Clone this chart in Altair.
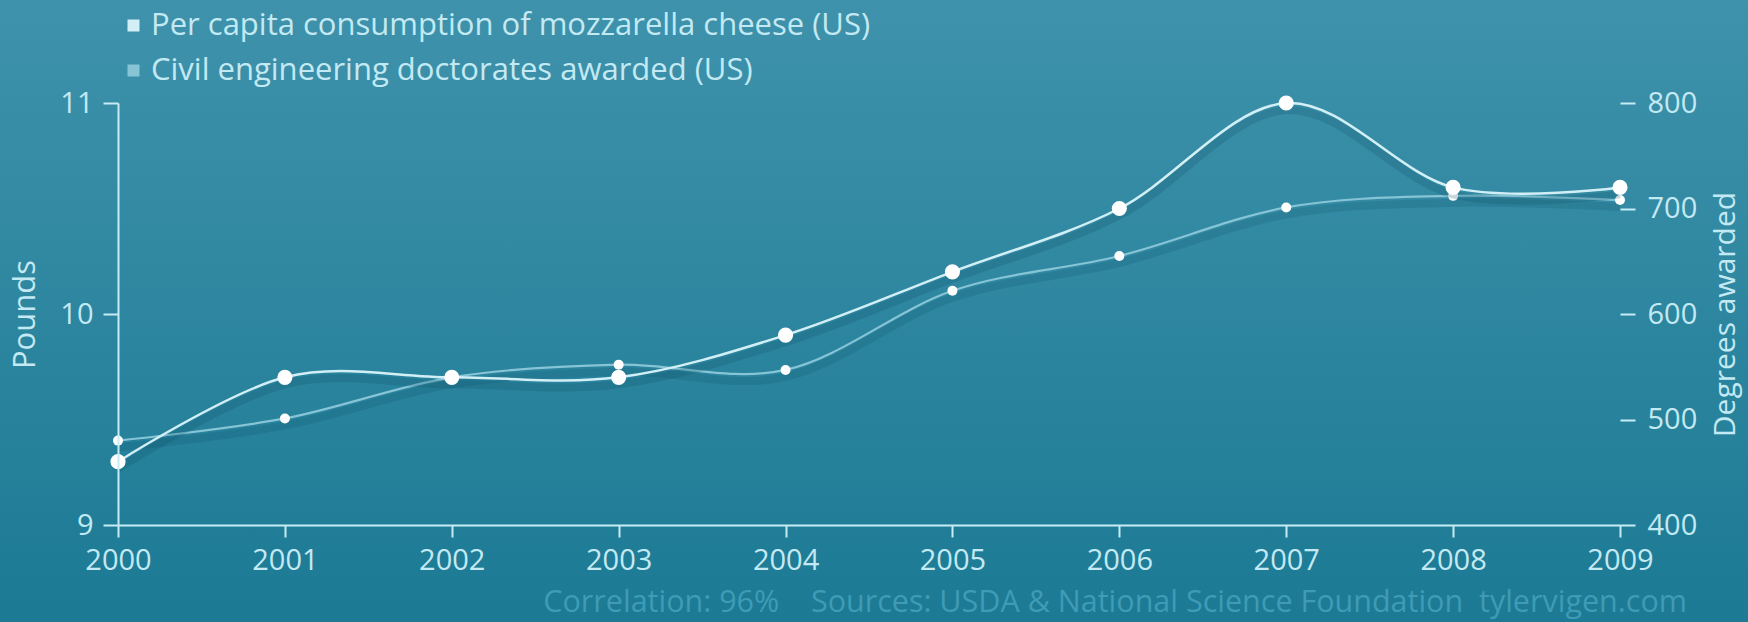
import altair as alt
import pandas as pd

# ---- data ----
years = [2000, 2001, 2002, 2003, 2004, 2005, 2006, 2007, 2008, 2009]
mozzarella = [9.3, 9.7, 9.7, 9.7, 9.9, 10.2, 10.5, 11.0, 10.6, 10.6]
doctorates = [480, 501, 540, 552, 547, 622, 655, 701, 712, 708]
series_names = ["Per capita consumption of mozzarella cheese (US)",
                "Civil engineering doctorates awarded (US)"]
left_ticks = [9, 10, 11]
right_ticks = [400, 500, 600, 700, 800]
NB = "\u00a0"
footer = ["Correlation: 96%" + NB * 4 + "Sources: USDA & National Science Foundation"
          + NB * 2 + "tylervigen.com"]

W, H = 1502, 422
PAD = {"left": 118, "top": 103, "right": 128, "bottom": 97}
FONT = "Open Sans"
TXT = "#c3e9f3"
AXIS_LINE = "#c6ecf5"
FS = 29

moz_df = pd.DataFrame({"year": years, "value": mozzarella, "series": series_names[0]})
civ_df = pd.DataFrame({"year": years, "value": doctorates, "series": series_names[1]})

x_enc = alt.X("year:Q", scale=alt.Scale(domain=[2000, 2009], nice=False, zero=False),
              axis=alt.Axis(values=years, format="d", title=None, grid=False,
                            tickSize=12, tickWidth=2, domainWidth=2,
                            domainColor=AXIS_LINE, tickColor=AXIS_LINE,
                            labelColor=TXT, labelFontSize=FS, labelFont=FONT,
                            labelPadding=9, labelFlush=False, labelOverlap=False,
                            zindex=2))

color_scale = alt.Scale(domain=series_names, range=["#d2eff6", "#86c4d6"])
legend = alt.Legend(title=None, orient="none", legendX=0, legendY=-93,
                    symbolType="square", symbolSize=36, symbolStrokeWidth=6,
                    labelFontSize=31, labelFont=FONT, labelColor=TXT,
                    labelOffset=2, rowPadding=13, padding=0,
                    labelLimit=1400, zindex=2)

# background gradient
bg = alt.Chart(pd.DataFrame({"a": [0]})).mark_rect(
    color=alt.Gradient(gradient="linear",
                       stops=[alt.GradientStop(color="#3f92ab", offset=0),
                              alt.GradientStop(color="#1c7a94", offset=1)],
                       x1=0, x2=0, y1=0, y2=1)
).encode(x=alt.value(-PAD["left"]), x2=alt.value(W + PAD["right"]),
         y=alt.value(-PAD["top"]), y2=alt.value(H + PAD["bottom"]))

foot = alt.Chart(pd.DataFrame({"t": footer})).mark_text(
    align="right", baseline="middle", font=FONT, fontSize=30.5, color="#3f9bb6"
).encode(text="t:N", x=alt.value(1569), y=alt.value(500))

# mozzarella (left axis)
y_moz = alt.Y("value:Q", scale=alt.Scale(domain=[9, 11], nice=False, zero=False),
              axis=alt.Axis(values=left_ticks, labelExpr="datum.value + ''",
                            title="Pounds", grid=False,
                            tickSize=15, tickWidth=2, domainWidth=2,
                            domainColor=AXIS_LINE, tickColor=AXIS_LINE,
                            labelColor=TXT, labelFontSize=FS, labelFont=FONT,
                            labelPadding=10, labelOverlap=False, labelFlush=False,
                            labelBound=False,
                            titleColor=TXT, titleFontSize=31, titleFont=FONT,
                            titleFontWeight="normal", titleAngle=270,
                            titleX=-84, titleY=H / 2, titleAlign="center",
                            titleBaseline="alphabetic", zindex=2))
moz_base = alt.Chart(moz_df)
moz_shadow = moz_base.mark_line(interpolate="cardinal", color="#0c4e66",
                                opacity=0.22, strokeWidth=8, yOffset=7).encode(x=x_enc, y=y_moz)
moz_line = moz_base.mark_line(interpolate="cardinal", strokeWidth=2.5).encode(
    x=x_enc, y=y_moz, color=alt.Color("series:N", scale=color_scale, legend=legend))
moz_pts = moz_base.mark_point(filled=True, shape="circle", size=230, color="#ffffff",
                              opacity=1).encode(x=x_enc, y=y_moz)
moz = alt.layer(moz_shadow, moz_line, moz_pts)

# doctorates (right axis)
y_civ = alt.Y("value:Q", scale=alt.Scale(domain=[400, 800], nice=False, zero=False),
              axis=alt.Axis(orient="right", values=right_ticks, title="Degrees awarded",
                            grid=False, domain=False,
                            tickSize=15, tickWidth=2, tickColor=AXIS_LINE,
                            labelColor=TXT, labelFontSize=FS, labelFont=FONT,
                            labelPadding=12, labelOverlap=False, labelFlush=False,
                            titleColor=TXT, titleFontSize=30, titleFont=FONT,
                            titleFontWeight="normal", titleAngle=270,
                            titleX=114, titleY=H / 2, titleAlign="center",
                            titleBaseline="alphabetic", zindex=2))
civ_base = alt.Chart(civ_df)
civ_shadow = civ_base.mark_line(interpolate="cardinal", color="#0c4e66",
                                opacity=0.18, strokeWidth=8, yOffset=7).encode(x=x_enc, y=y_civ)
civ_line = civ_base.mark_line(interpolate="cardinal", strokeWidth=2.2).encode(
    x=x_enc, y=y_civ, color=alt.Color("series:N", scale=color_scale, legend=legend))
civ_pts = civ_base.mark_point(filled=True, shape="circle", size=100, color="#ffffff",
                              opacity=1).encode(x=x_enc, y=y_civ)
civ = alt.layer(civ_shadow, civ_line, civ_pts)

chart = alt.layer(bg, civ, moz, foot).resolve_scale(y="independent").properties(
    width=W, height=H,
    autosize=alt.AutoSizeParams(type="none"),
    padding=PAD,
    background="#2b84a0",
).configure_view(stroke=None)

chart.save("out.html", embed_options={"renderer": "svg", "actions": False})
